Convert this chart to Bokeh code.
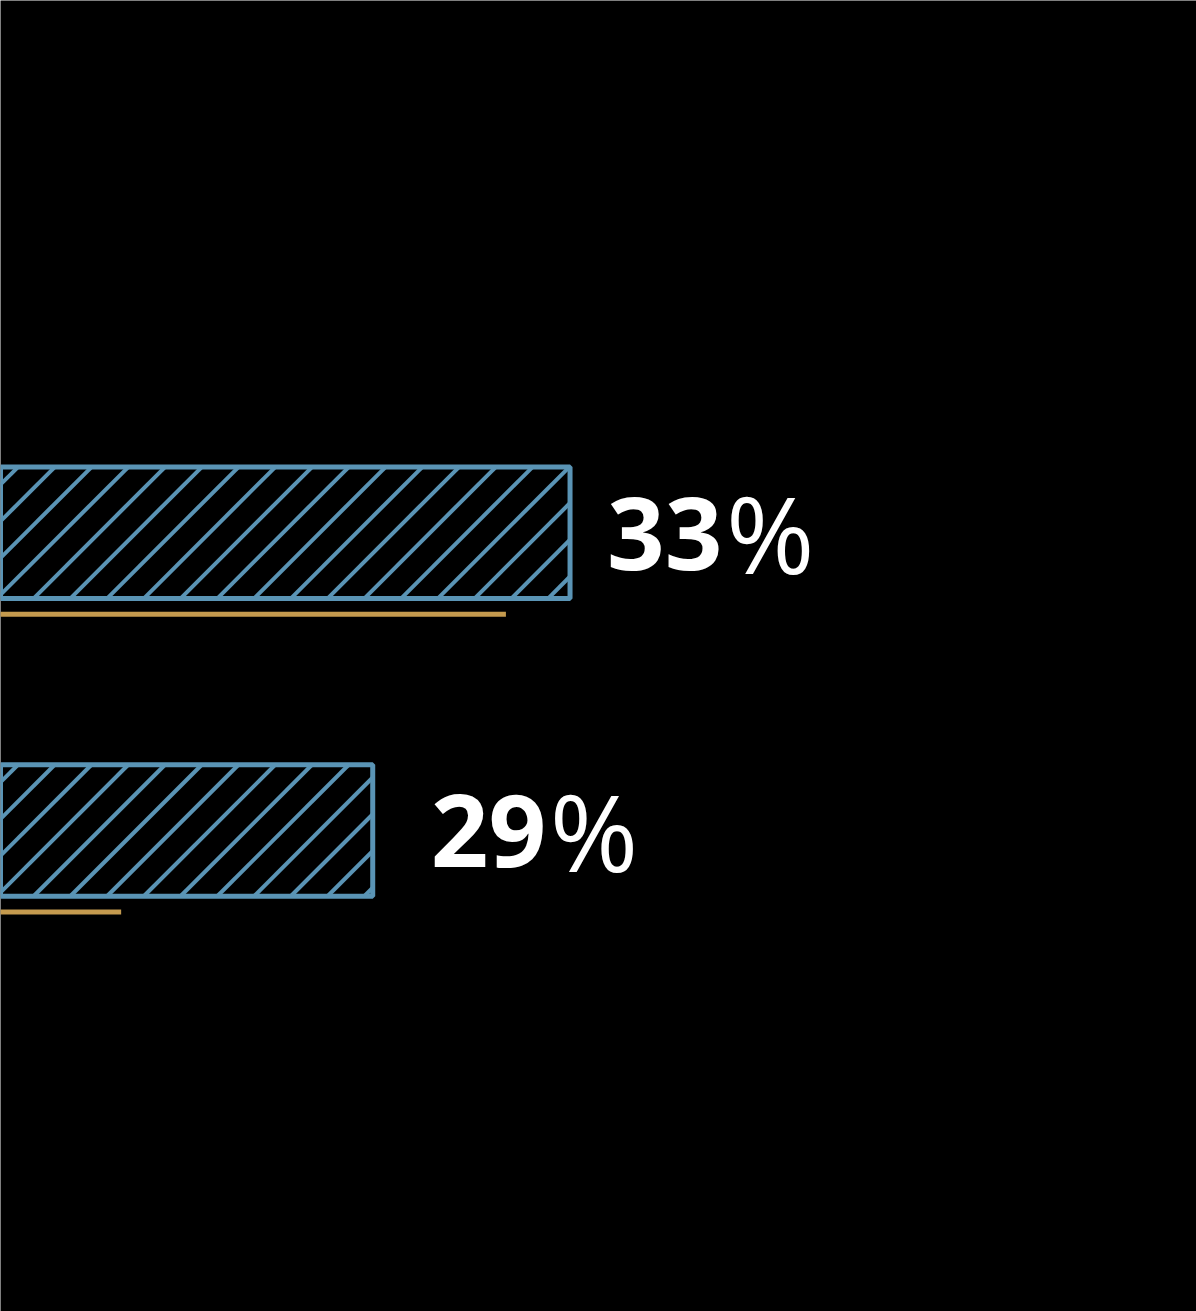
from bokeh.plotting import figure
from bokeh.models import Range1d, ColumnDataSource
from bokeh.core.properties import value
from bokeh.embed import file_html
from bokeh.resources import INLINE

# ---- data ----
categories = ["A", "B"]
values = [33, 29]
benchmark = [31.7, 23.9]
number_labels = ["33", "29"]

# ---- styles ----
BLUE = "#5A94B5"
GOLD = "#C49A4E"
BG = "#000000"
label_offsets = [37, 58]      # px gap between bar end and label origin
pct_gap = 119                 # px from number origin to "%" origin
HATCH_SPACING = 36.75         # px, horizontal distance between hatch lines
HATCH_PHASE = 33.0            # px, where a hatch line meets bar bottom

W, H = 1196, 1311
X0, X1 = 21.454, 45.70
Y_TOP, Y_BOT = -1.788, 2.6157
BAR_H = 0.4417
ypos = list(range(len(categories)))

p = figure(width=W, height=H, output_backend="svg", toolbar_location=None,
           x_range=Range1d(X0, X1), y_range=Range1d(Y_BOT, Y_TOP),
           min_border=0, background_fill_color=BG, border_fill_color=BG,
           outline_line_color=None)
p.axis.visible = False
p.grid.visible = False

# pixel <-> data helpers (derived from the ranges)
def px_x(v):
    return (v - X0) / (X1 - X0) * W
def dx(px):
    return X0 + px / W * (X1 - X0)
def px_y(v):
    return (v - Y_TOP) / (Y_BOT - Y_TOP) * H
def dy(px):
    return Y_TOP + px / H * (Y_BOT - Y_TOP)

# 45-degree hatch lines clipped to each bar
hx0, hx1, hy0, hy1 = [], [], [], []
for y, v in zip(ypos, values):
    top = px_y(y - BAR_H / 2)
    bot = px_y(y + BAR_H / 2)
    h = bot - top
    xl, xr = px_x(0), px_x(v)
    k0 = int((xl - h - HATCH_PHASE) // HATCH_SPACING) - 1
    k1 = int((xr - HATCH_PHASE) // HATCH_SPACING) + 1
    for k in range(k0, k1 + 1):
        xb = HATCH_PHASE + k * HATCH_SPACING
        t0 = max(0.0, (xl - xb) / h)
        t1 = min(1.0, (xr - xb) / h)
        if t1 <= t0:
            continue
        hx0.append(float(dx(xb + t0 * h))); hy0.append(float(dy(bot - t0 * h)))
        hx1.append(float(dx(xb + t1 * h))); hy1.append(float(dy(bot - t1 * h)))

src = ColumnDataSource(dict(
    y=ypos, v=values, b=benchmark, lab=number_labels,
    yb=[y + 0.2738 for y in ypos],
    off=label_offsets,
    poff=[a + pct_gap for a in label_offsets],
    pct=["%"] * len(values),
))

p.segment(x0=hx0, y0=hy0, x1=hx1, y1=hy1, line_color=BLUE, line_width=4)

p.hbar(y="y", left=0, right="v", height=BAR_H, source=src,
       fill_color=BG, fill_alpha=0, line_color=BLUE, line_width=5)

p.segment(x0=0, x1="b", y0="yb", y1="yb", source=src,
          line_color=GOLD, line_width=5)

p.text(x="v", y="y", text="lab", source=src, x_offset="off", y_offset=1,
       text_font=value("Open Sans"), text_font_style="bold",
       text_font_size="101px", text_color="white",
       text_align="left", text_baseline="alphabetic")
p.text(x="v", y="y", text="pct", source=src, x_offset="poff", y_offset=0,
       text_font=value("Open Sans"), text_font_style="normal",
       text_font_size="107px", text_color="white",
       text_align="left", text_baseline="alphabetic")

html = file_html(p, INLINE)
html = html.replace("<body>", '<body style="margin:0;background:#000000;overflow:hidden">', 1)
open("out.html", "w").write(html)
